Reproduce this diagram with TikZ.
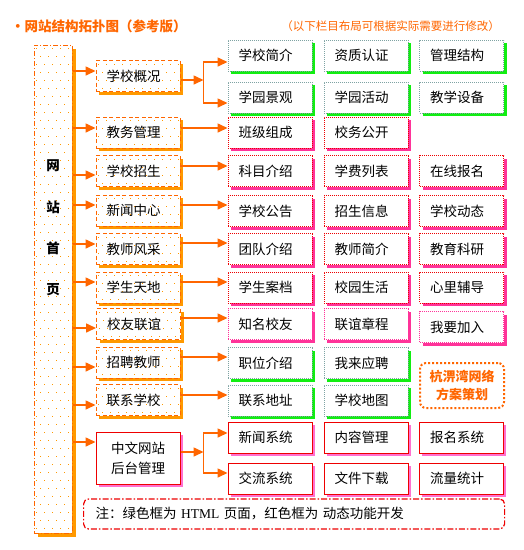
\documentclass[tikz,border=0pt]{standalone}
\usepackage{fontspec}
\setmainfont{Noto Sans CJK SC}
\newfontfamily\serifl{Liberation Serif}
\usetikzlibrary{arrows.meta,shadows}

\definecolor{lineor}{HTML}{FF6600}
\definecolor{shador}{HTML}{FF9900}
\definecolor{dotor}{HTML}{FF9900}
\definecolor{gshadow}{HTML}{11EE11}
\definecolor{gborder}{HTML}{7FA3A3}
\definecolor{rborder}{HTML}{EE0000}
\definecolor{pshadow}{HTML}{FF3399}
\definecolor{cshadow}{HTML}{FF70D0}

\begin{document}
\begin{tikzpicture}[x=1pt,y=-1pt,
  dotsfill/.style 2 args={path picture={
    \foreach \i in {0,...,#1}{\foreach \j in {0,...,#2}{
      \fill[dotor] ([xshift={\i*8pt+2pt+4pt*mod(\j,2)}, yshift={-\j*8pt-3pt}]path picture bounding box.north west) rectangle +(1.3,1.3);}}}},
  boxbase/.style={inner sep=0pt, minimum width=84pt, minimum height=31pt,
    font=\fontsize{13.5}{16}\selectfont, execute at begin node={\kern-9pt}},
  lone/.style={boxbase, draw=lineor, line width=1pt, dash pattern=on 4pt off 2.5pt, fill=white,
    drop shadow={shadow xshift=3pt, shadow yshift=-3pt, fill=shador, opacity=1},
    dotsfill={10}{3}},
  lback/.style={inner sep=0pt, minimum width=84pt, minimum height=52pt, align=left,
    font=\fontsize{13.5}{20}\selectfont, draw=rborder, line width=1pt, fill=white,
    drop shadow={shadow xshift=2.5pt, shadow yshift=-2.5pt, fill=cshadow, opacity=1}},
  gbox/.style={boxbase, draw=gborder, line width=1pt, dash pattern=on 1pt off 1pt, fill=white,
    drop shadow={shadow xshift=3pt, shadow yshift=-3pt, fill=gshadow, opacity=1}},
  rbox/.style={boxbase, draw=rborder, line width=1pt, dash pattern=on 1pt off 1pt, fill=white,
    drop shadow={shadow xshift=3pt, shadow yshift=-3pt, fill=pshadow, opacity=1}},
  pbox/.style={boxbase, draw=pshadow, line width=1pt, dash pattern=on 1pt off 1pt, fill=white,
    drop shadow={shadow xshift=3pt, shadow yshift=-3pt, fill=pshadow, opacity=1}},
  bbox/.style={boxbase, draw=rborder, line width=1pt, fill=white,
    drop shadow={shadow xshift=2.5pt, shadow yshift=-2.5pt, fill=cshadow, opacity=1}},
  bigbox/.style={inner sep=0pt, minimum width=38pt, minimum height=488pt, draw=lineor, line width=1pt,
    dash pattern=on 5pt off 2pt on 1pt off 2pt, fill=white,
    drop shadow={shadow xshift=3.5pt, shadow yshift=-4pt, fill=shador, opacity=1},
    dotsfill={4}{60}},
  hometxt/.style={inner sep=0pt, align=center, font=\bfseries\fontsize{13.5}{41.3}\selectfont},
  notebox/.style={draw=rborder, line width=1.2pt, dash pattern=on 6pt off 2pt on 1.5pt off 2pt,
    rounded corners=5pt, text width=397pt, inner xsep=12pt, inner ysep=0pt, minimum height=30pt,
    align=left, font=\fontsize{13.5}{16}\selectfont},
  planbox/.style={draw=lineor, line width=2pt, dash pattern=on 2pt off 2pt, rounded corners=6pt,
    minimum width=84pt, minimum height=45pt, inner sep=0pt, text=lineor, align=center,
    font=\bfseries\fontsize{13}{18}\selectfont},
  titletxt/.style={inner sep=0pt, text=lineor, font=\bfseries\fontsize{13.5}{16}\selectfont},
  subtxt/.style={inner sep=0pt, text=lineor, font=\fontsize{11.5}{14}\selectfont},
  conn/.style={draw=lineor, line width=1.6pt, -{Triangle[length=10pt,width=9pt]}},
  connl/.style={draw=lineor, line width=1.6pt, line cap=rect}
]
\fill[white] (0,0) rectangle (524,550);
\useasboundingbox (0,0) rectangle (524,550);

% titles
\node[titletxt, anchor=west] (title) at (11,26) {·网站结构拓扑图（参考版）};
\node[subtxt, anchor=east] (subtitle) at (500,26) {（以下栏目布局可根据实际需要进行修改）};

% home column
\node[bigbox] (home) at (53,289) {};
\node[hometxt] (hometext) at (53,228) {网\\站\\首\\页};

% level 1
\node[lone] (l1) at (138,76) {学校概况};
\node[lone] (l2) at (138,132.5) {教务管理};
\node[lone] (l3) at (138,171) {学校招生};
\node[lone] (l4) at (138,210.5) {新闻中心};
\node[lone] (l5) at (138,249) {教师风采};
\node[lone] (l6) at (138,287.5) {学生天地};
\node[lone] (l7) at (138.5,324) {校友联谊};
\node[lone] (l8) at (138,362.5) {招聘教师};
\node[lone] (l9) at (138,400) {联系学校};
\node[lback] (l10) at (138,458) {中文网站\\后台管理};

% level 2
\node[gbox] (r1a) at (270,55.5) {学校简介};
\node[gbox] (r1b) at (366,55.5) {资质认证};
\node[gbox] (r1c) at (461.5,55.5) {管理结构};
\node[gbox] (r2a) at (270,97.5) {学园景观};
\node[gbox] (r2b) at (366,97.5) {学园活动};
\node[gbox] (r2c) at (461.5,97.5) {教学设备};
\node[rbox] (r3a) at (270,132.5) {班级组成};
\node[rbox] (r3b) at (366,132.5) {校务公开};
\node[rbox] (r4a) at (270,171) {科目介绍};
\node[rbox] (r4b) at (366,171) {学费列表};
\node[rbox] (r4c) at (461.5,171) {在线报名};
\node[rbox] (r5a) at (270,211) {学校公告};
\node[rbox] (r5b) at (366,211) {招生信息};
\node[rbox] (r5c) at (461.5,211) {学校动态};
\node[rbox] (r6a) at (270,249) {团队介绍};
\node[rbox] (r6b) at (366,249) {教师简介};
\node[rbox] (r6c) at (461.5,249) {教育科研};
\node[rbox] (r7a) at (270,287.5) {学生案档};
\node[rbox] (r7b) at (366,287.5) {校园生活};
\node[rbox] (r7c) at (461.5,287.5) {心里辅导};
\node[pbox] (r8a) at (270,324) {知名校友};
\node[pbox] (r8b) at (366,324) {联谊章程};
\node[pbox] (r8c) at (461.5,327) {我要加入};
\node[gbox] (r9a) at (270,363) {职位介绍};
\node[gbox] (r9b) at (366,363) {我来应聘};
\node[gbox] (r10a) at (270,400.5) {联系地址};
\node[gbox] (r10b) at (366,400.5) {学校地图};
\node[bbox] (r11a) at (270,437.5) {新闻系统};
\node[bbox] (r11b) at (366,437.5) {内容管理};
\node[bbox] (r11c) at (461.5,437.5) {报名系统};
\node[bbox] (r12a) at (270,478.5) {交流系统};
\node[bbox] (r12b) at (366,478.5) {文件下载};
\node[bbox] (r12c) at (461.5,478.5) {流量统计};

\node[planbox] (plan) at (462,385.5) {杭淠湾网络\\方案策划};

\node[notebox, anchor=west] (note) at (83,514) {注：绿色框为 {\serifl HTML} 页面，红色框为 动态功能开发};

% connectors from home
\draw[conn] ([yshift=5pt]l1.west -| home.east) -- ([yshift=5pt]l1.west);
\draw[conn] ([yshift=4.5pt]l2.west -| home.east) -- ([yshift=4.5pt]l2.west);
\draw[conn] ([yshift=-4pt]l3.west -| home.east) -- ([yshift=-4pt]l3.west);
\draw[conn] ([yshift=5.5pt]l4.west -| home.east) -- ([yshift=5.5pt]l4.west);
\draw[conn] ([yshift=5pt]l5.west -| home.east) -- ([yshift=5pt]l5.west);
\draw[conn] ([yshift=5.5pt]l6.west -| home.east) -- ([yshift=5.5pt]l6.west);
\draw[conn] ([yshift=-4pt]l7.west -| home.east) -- ([yshift=-4pt]l7.west);
\draw[conn] ([yshift=-4.5pt]l8.west -| home.east) -- ([yshift=-4.5pt]l8.west);
\draw[conn] ([yshift=-5pt]l9.west -| home.east) -- ([yshift=-5pt]l9.west);
\draw[conn] ([yshift=16pt]l10.west -| home.east) -- ([yshift=16pt]l10.west);

% row 1 branch
\coordinate (j1) at ([xshift=23pt,yshift=-4pt]l1.east);
\draw[conn] ([yshift=-4pt]l1.east) -- (j1);
\draw[connl] ([yshift=-6.5pt]r1a.west -| j1) -- ([yshift=-5.5pt]r2a.west -| j1);
\draw[conn] ([yshift=-6.5pt]r1a.west -| j1) -- ([yshift=-6.5pt]r1a.west);
\draw[conn] ([yshift=-5.5pt]r2a.west -| j1) -- ([yshift=-5.5pt]r2a.west);

% single rows
\draw[conn] ([yshift=4.5pt]l2.east) -- ([yshift=4.5pt]l2.east -| r3a.west);
\draw[conn] ([yshift=5pt]l3.east) -- ([yshift=5pt]l3.east -| r4a.west);
\draw[conn] ([yshift=5.5pt]l4.east) -- ([yshift=5.5pt]l4.east -| r5a.west);
\draw[conn] ([yshift=6pt]l5.east) -- ([yshift=6pt]l5.east -| r6a.west);
\draw[conn] ([yshift=5.5pt]l6.east) -- ([yshift=5.5pt]l6.east -| r7a.west);
\draw[conn] ([yshift=6pt]l7.east) -- ([yshift=6pt]l7.east -| r8a.west);
\draw[conn] ([yshift=5.5pt]l8.east) -- ([yshift=5.5pt]l8.east -| r9a.west);
\draw[conn] ([yshift=5pt]l9.east) -- ([yshift=5pt]l9.east -| r10a.west);

% back-office branch
\coordinate (j2) at ([xshift=23pt,yshift=6pt]l10.east);
\draw[conn] ([yshift=6pt]l10.east) -- (j2);
\draw[connl] ([yshift=4.5pt]r11a.west -| j2) -- ([yshift=5.5pt]r12a.west -| j2);
\draw[conn] ([yshift=4.5pt]r11a.west -| j2) -- ([yshift=4.5pt]r11a.west);
\draw[conn] ([yshift=5.5pt]r12a.west -| j2) -- ([yshift=5.5pt]r12a.west);
\end{tikzpicture}
\end{document}
